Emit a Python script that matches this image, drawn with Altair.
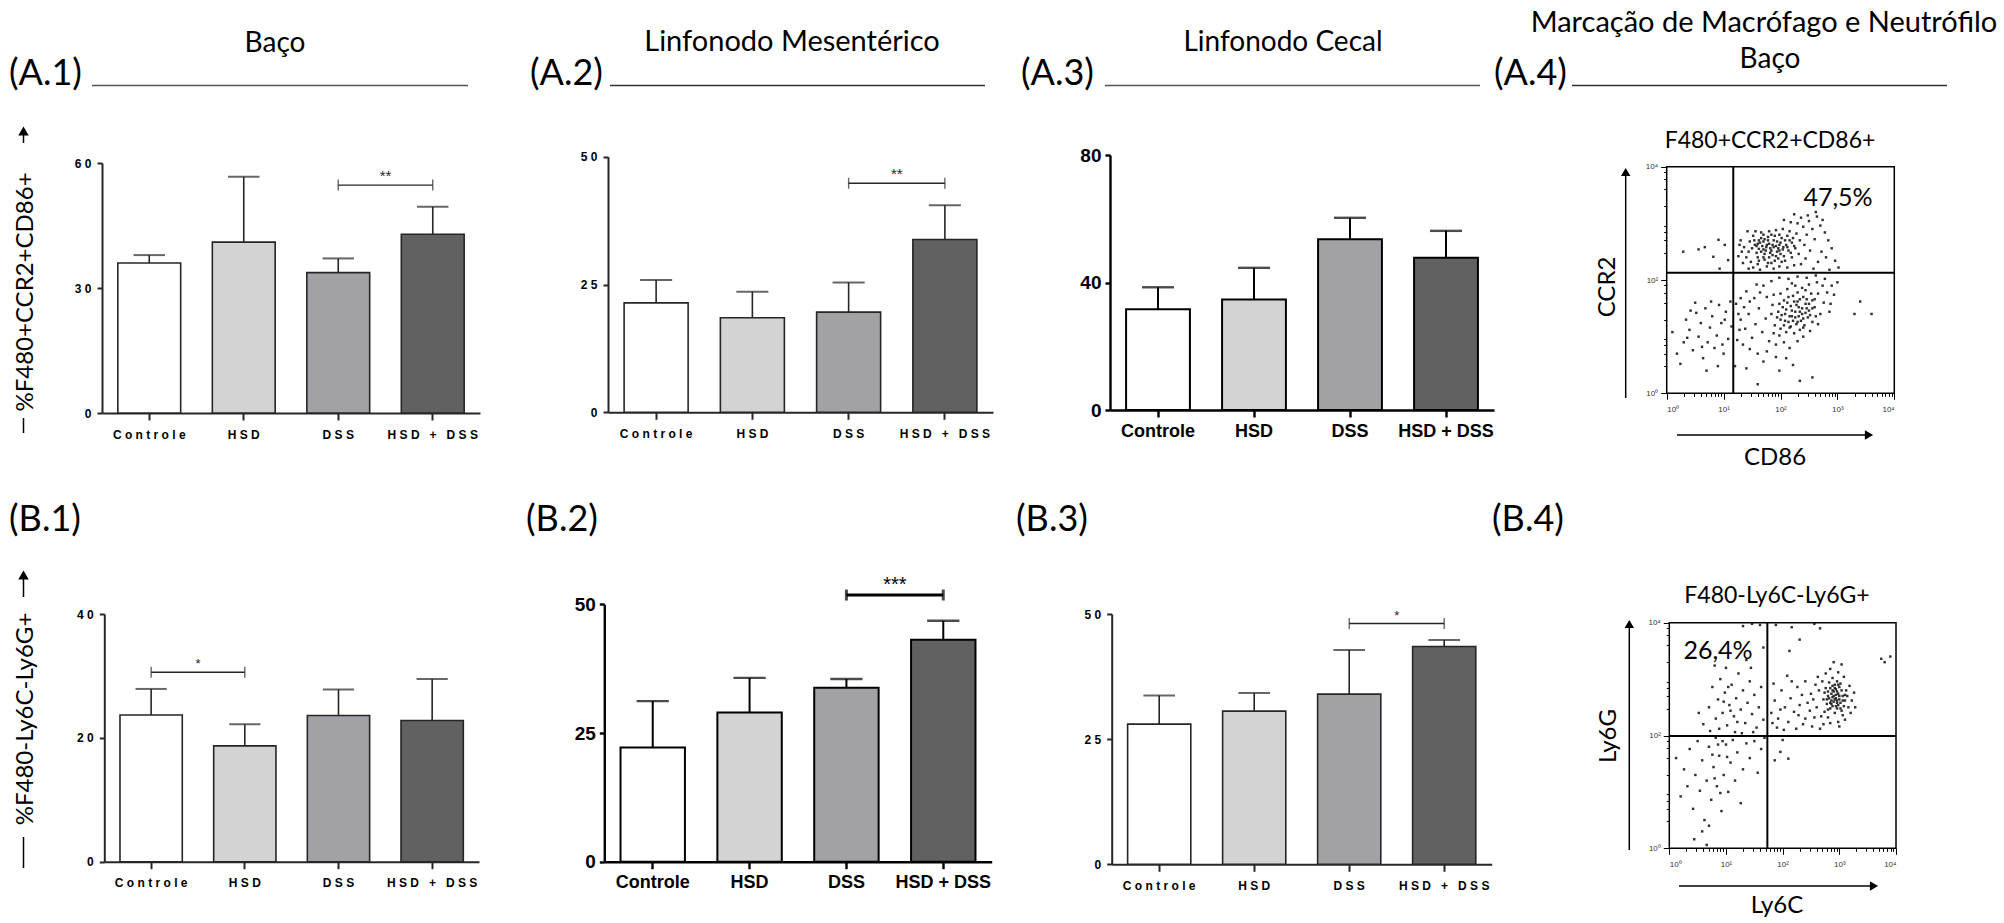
import math
import altair as alt
import pandas as pd

W, H = 2004, 923
TXT = "Lato"
AX = "Liberation Sans"

grupos = ["Controle", "HSD", "DSS", "HSD + DSS"]
cores = ["#ffffff", "#d3d3d3", "#a2a2a6", "#616161"]

# média e EPM (%) por grupo
a1_media = [36.0, 41.0, 33.7, 42.9]
a1_epm = [1.9, 15.7, 3.4, 6.6]
a2_media = [21.4, 18.5, 19.6, 33.8]
a2_epm = [4.5, 5.1, 5.8, 6.7]
a3_media = [31.6, 34.7, 53.6, 47.8]
a3_epm = [6.9, 9.9, 6.7, 8.4]
b1_media = [23.7, 18.7, 23.6, 22.8]
b1_epm = [4.2, 3.5, 4.2, 6.7]
b2_media = [22.2, 29.0, 33.8, 43.1]
b2_epm = [9.0, 6.7, 1.7, 3.7]
b3_media = [28.0, 30.6, 34.0, 43.5]
b3_epm = [5.7, 3.6, 8.8, 1.3]

# comparações significativas: grupo inicial, grupo final, altura, rótulo
a1_sig = ["DSS", "HSD + DSS", 54.7, "**"]
a2_sig = ["DSS", "HSD + DSS", 44.8, "**"]
b1_sig = ["Controle", "HSD", 30.6, "*"]
b2_sig = ["DSS", "HSD + DSS", 51.8, "***"]
b3_sig = ["DSS", "HSD + DSS", 48.1, "*"]

# citometria (log10 da intensidade): CD86 x CCR2, baço
a4_q = (1.17, 2.13)
a4_alto = [
    (1.55, 2.62), (1.62, 2.55), (1.70, 2.68), (1.75, 2.58), (1.80, 2.64), (1.84, 2.52), (1.88, 2.70),
    (1.92, 2.60), (1.96, 2.56), (2.00, 2.66), (2.05, 2.58), (2.10, 2.62), (1.66, 2.74), (1.78, 2.76),
    (1.90, 2.78), (2.02, 2.74), (1.58, 2.48), (1.72, 2.46), (1.86, 2.44), (2.00, 2.46), (2.14, 2.52),
    (2.20, 2.66), (1.64, 2.66), (1.82, 2.56), (1.94, 2.68), (1.74, 2.52), (1.50, 2.56), (1.46, 2.68),
    (1.68, 2.60), (2.08, 2.70), (1.40, 2.40), (1.48, 2.32), (1.60, 2.28), (1.72, 2.36), (1.84, 2.30),
    (1.96, 2.38), (2.08, 2.34), (2.20, 2.40), (2.32, 2.46), (2.26, 2.56), (2.34, 2.70), (2.28, 2.82),
    (2.16, 2.86), (2.04, 2.90), (1.92, 2.88), (1.80, 2.86), (1.66, 2.84), (1.52, 2.78), (1.42, 2.86),
    (1.36, 2.58), (1.32, 2.50), (1.30, 2.70), (2.42, 2.62), (2.46, 2.80), (2.40, 2.94), (2.30, 3.00),
    (2.18, 3.02), (2.06, 3.06), (2.50, 3.04), (2.56, 2.90), (2.60, 2.72), (2.52, 2.52), (2.44, 2.38),
    (2.36, 2.28), (2.24, 2.26), (2.12, 2.22), (1.98, 2.24), (1.88, 2.20), (1.76, 2.24), (1.64, 2.18),
    (1.52, 2.22), (1.44, 2.20), (1.34, 2.30), (1.26, 2.42), (1.28, 2.62), (2.64, 3.12), (2.70, 2.96),
    (2.78, 2.84), (2.84, 2.70), (2.90, 2.56), (2.72, 2.50), (2.80, 2.40), (2.66, 2.32), (2.58, 2.20),
    (2.96, 2.34), (3.02, 2.22), (2.86, 2.18), (2.62, 3.20), (2.48, 3.14), (2.36, 3.10), (2.24, 3.16),
    (2.74, 3.06), (1.58, 2.60), (1.70, 2.54), (1.86, 2.62), (1.98, 2.52), (1.78, 2.70), (1.62, 2.70),
    (1.60, 2.64), (1.66, 2.50), (1.72, 2.72), (1.76, 2.62), (1.82, 2.48), (1.88, 2.58), (1.94, 2.50),
    (1.98, 2.62), (2.04, 2.54), (2.12, 2.58), (2.16, 2.70), (1.54, 2.70), (1.60, 2.40), (1.70, 2.40),
    (1.80, 2.40), (1.92, 2.42), (2.06, 2.42), (2.18, 2.48), (2.24, 2.60), (1.44, 2.50), (1.56, 2.86),
    (1.70, 2.80), (1.84, 2.80), (1.98, 2.80), (2.12, 2.78), (2.22, 2.74), (1.62, 2.34), (1.78, 2.30),
    (1.90, 2.34), (2.02, 2.32),
    (0.29, 2.50), (0.56, 2.54), (0.67, 2.58), (0.82, 2.41), (0.91, 2.71), (1.02, 2.62), (1.08, 2.35),
    (0.93, 2.20),
]
a4_baixo = [
    (2.00, 1.30), (2.08, 1.40), (2.14, 1.26), (2.20, 1.46), (2.26, 1.34), (2.32, 1.52), (2.38, 1.40),
    (2.44, 1.58), (2.50, 1.46), (2.56, 1.64), (2.04, 1.52), (2.12, 1.60), (2.18, 1.18), (2.28, 1.22),
    (2.36, 1.28), (2.42, 1.20), (2.48, 1.34), (2.30, 1.62), (2.22, 1.72), (2.40, 1.70), (2.54, 1.76),
    (1.96, 1.44), (1.90, 1.20), (2.10, 1.08), (2.24, 1.06), (2.34, 1.12), (2.60, 1.52), (2.62, 1.36),
    (1.30, 1.30), (1.38, 1.14), (1.44, 1.40), (1.50, 0.98), (1.56, 1.22), (1.62, 1.50), (1.68, 1.08),
    (1.74, 1.32), (1.80, 0.92), (1.86, 1.56), (1.92, 0.86), (1.98, 1.02), (2.06, 0.90), (2.16, 0.80),
    (2.30, 0.92), (2.40, 1.00), (2.52, 1.10), (2.66, 1.22), (2.70, 1.40), (2.76, 1.60), (2.82, 1.78),
    (2.74, 1.90), (2.64, 1.96), (2.50, 1.92), (2.38, 1.86), (2.26, 1.90), (2.12, 1.84), (2.00, 1.76),
    (1.88, 1.74), (1.76, 1.70), (1.64, 1.78), (1.54, 1.68), (1.46, 1.62), (1.36, 1.52), (1.28, 1.12),
    (1.24, 0.94), (1.34, 0.86), (1.46, 0.78), (1.60, 0.70), (1.76, 0.74), (1.92, 0.64), (1.70, 1.90),
    (1.84, 1.98), (1.98, 2.04), (2.14, 2.02), (2.30, 2.06), (2.46, 2.04), (2.62, 2.08), (2.78, 2.02),
    (2.90, 1.90), (2.94, 1.74), (2.88, 1.58), (3.00, 1.96), (2.56, 1.26), (1.58, 1.92), (1.40, 1.80),
    (1.30, 1.68), (1.22, 1.58), (1.26, 1.40), (2.86, 1.44), (1.70, 0.56), (1.98, 0.40), (2.22, 0.50),
    (1.40, 0.44), (2.10, 0.62), (3.30, 1.40), (3.60, 1.40), (3.40, 1.62), (2.56, 0.28), (2.34, 0.22),
    (1.60, 0.16), (1.20, 0.48), (2.16, 1.36), (2.34, 1.44), (2.46, 1.50), (2.06, 1.20), (2.28, 1.56),
    (2.40, 1.32), (2.18, 1.54),
    (2.02, 1.38), (2.10, 1.48), (2.16, 1.16), (2.22, 1.28), (2.26, 1.44), (2.32, 1.36), (2.38, 1.50),
    (2.44, 1.42), (2.50, 1.58), (2.56, 1.50), (2.06, 1.64), (2.14, 1.70), (2.24, 1.62), (2.34, 1.66),
    (2.46, 1.66), (1.94, 1.34), (1.98, 1.58), (2.08, 1.28), (2.20, 1.36), (2.30, 1.26), (2.40, 1.16),
    (2.52, 1.38), (2.60, 1.66), (2.66, 1.76), (1.84, 1.40), (1.88, 1.06), (2.00, 1.14), (2.30, 1.78),
    (2.44, 1.82), (2.20, 1.94),
]
a4_esq = [
    (0.10, 1.08), (0.18, 0.70), (0.30, 0.90), (0.34, 1.30), (0.40, 1.12), (0.46, 0.76), (0.52, 1.42),
    (0.56, 1.00), (0.60, 1.24), (0.64, 0.62), (0.68, 1.50), (0.72, 0.90), (0.76, 1.16), (0.80, 1.36),
    (0.84, 0.80), (0.88, 1.02), (0.92, 1.56), (0.96, 1.24), (1.00, 0.70), (1.04, 1.44), (1.08, 0.96),
    (1.12, 1.62), (1.14, 1.18), (0.70, 0.40), (0.90, 0.48), (0.50, 1.60), (0.24, 0.52), (0.42, 1.46),
    (0.62, 0.82), (1.02, 1.30), (0.78, 1.62), (0.98, 0.86), (0.36, 0.98),
]

# citometria (log10 da intensidade): Ly6C x Ly6G, baço
b4_q = (1.73, 1.99)
b4_neutro = [
    (2.80, 2.70), (2.86, 2.62), (2.90, 2.78), (2.94, 2.66), (2.98, 2.74), (3.02, 2.58), (3.06, 2.70),
    (2.84, 2.84), (2.92, 2.90), (3.00, 2.86), (2.88, 2.52), (2.96, 2.48), (3.04, 2.44), (2.78, 2.56),
    (2.74, 2.76), (3.10, 2.62), (3.12, 2.80), (2.82, 2.94), (2.96, 2.96), (2.90, 2.60), (2.98, 2.54),
    (2.86, 2.74), (3.08, 2.52), (2.72, 2.64), (2.94, 2.82), (3.02, 2.92), (2.80, 2.46), (2.92, 2.40),
    (3.14, 2.70), (2.88, 3.02), (2.60, 2.50), (2.64, 2.80), (2.68, 2.34), (2.70, 2.96), (2.76, 3.10),
    (2.84, 3.18), (2.98, 3.12), (3.08, 3.04), (3.18, 2.88), (3.22, 2.62), (3.20, 2.40), (3.10, 2.28),
    (2.98, 2.24), (2.84, 2.22), (2.72, 2.20), (2.56, 2.32), (2.54, 2.64), (2.58, 2.90), (2.62, 3.04),
    (2.90, 3.30), (3.04, 3.26), (3.26, 2.76), (2.48, 2.44), (2.50, 2.74), (2.44, 2.58), (2.40, 2.30),
    (2.52, 2.16), (2.66, 2.12), (3.28, 2.50), (3.00, 2.16), (2.80, 2.32), (2.74, 2.42), (3.16, 2.50),
    (3.06, 2.36), (2.94, 2.72), (2.88, 2.68), (3.00, 2.64), (2.84, 2.58), (2.96, 2.78),
    (2.82, 2.66), (2.88, 2.80), (2.92, 2.64), (2.96, 2.58), (3.00, 2.70), (3.04, 2.80), (2.86, 2.56),
    (2.90, 2.70), (2.94, 2.52), (2.98, 2.90), (3.06, 2.62), (2.78, 2.64), (2.84, 2.48), (2.92, 2.84),
    (3.02, 2.48), (2.76, 2.84), (3.10, 2.72), (2.88, 2.88), (2.80, 2.78), (2.96, 2.62),
]
b4_cauda = [
    (1.80, 2.40), (1.86, 2.62), (1.92, 2.30), (1.98, 2.80), (2.04, 2.50), (2.10, 2.24), (2.14, 2.66),
    (2.20, 2.42), (2.26, 2.86), (2.30, 2.54), (2.36, 2.20), (2.34, 2.72), (2.16, 2.96), (1.90, 2.14),
    (2.02, 2.10), (2.24, 2.12), (1.84, 2.92), (2.08, 3.06), (2.40, 2.96), (1.96, 2.46), (2.28, 2.36),
    (1.82, 2.22), (1.88, 3.96), (2.16, 3.92), (2.56, 3.98), (2.66, 3.90), (2.30, 3.70), (3.90, 3.40),
    (3.80, 3.30), (3.74, 3.36), (2.12, 3.50),
]
b4_sup_esq = [
    (0.60, 2.20), (0.70, 2.50), (0.76, 2.86), (0.82, 2.30), (0.86, 2.64), (0.90, 3.00), (0.94, 2.40),
    (0.98, 2.76), (1.02, 2.18), (1.06, 2.54), (1.10, 2.90), (1.14, 2.34), (1.18, 2.66), (1.22, 3.10),
    (1.26, 2.46), (1.30, 2.80), (1.34, 2.22), (1.38, 2.58), (1.42, 2.96), (1.46, 2.38), (1.50, 2.72),
    (1.54, 2.14), (1.58, 2.50), (1.62, 2.86), (1.66, 2.28), (1.44, 3.20), (1.00, 3.20), (0.88, 2.12),
    (1.16, 2.06), (0.72, 2.08), (1.28, 2.04), (1.48, 2.06), (0.52, 2.40), (0.80, 3.24), (1.36, 3.34),
    (1.66, 3.56), (1.60, 3.96), (1.30, 3.94), (1.46, 3.98), (1.08, 2.44), (0.96, 2.60), (1.20, 2.24),
    (1.04, 2.86),
]
b4_inf = [
    (0.12, 1.60), (0.20, 0.92), (0.26, 1.40), (0.32, 1.10), (0.36, 1.76), (0.42, 0.70), (0.46, 1.30),
    (0.50, 1.90), (0.54, 1.02), (0.58, 1.56), (0.62, 0.50), (0.66, 1.20), (0.70, 1.80), (0.74, 0.86),
    (0.78, 1.44), (0.82, 1.96), (0.84, 1.10), (0.88, 1.64), (0.92, 0.66), (0.96, 1.30), (1.00, 1.84),
    (1.04, 1.00), (1.08, 1.52), (1.12, 1.92), (1.16, 1.20), (1.20, 1.70), (1.26, 0.80), (1.30, 1.40),
    (1.36, 1.86), (1.42, 1.60), (1.50, 1.90), (1.56, 1.34), (1.62, 1.76), (1.68, 1.96), (0.70, 0.40),
    (0.58, 0.30), (0.44, 0.16), (0.66, 0.06), (0.86, 1.84), (0.76, 1.66), (0.94, 1.90), (0.80, 1.24),
    (1.02, 1.62), (0.90, 0.98), (1.96, 1.71), (2.10, 1.59), (1.86, 1.56), (2.00, 1.92),
]

one = pd.DataFrame({"k": [0]})
PI = 0.335

FINO = dict(spaced=True, xs=12, ys=12, lw=1.6, ink="#262626", xpad=9, ypad=6)
GROSSO = dict(spaced=False, xs=18, ys=19, lw=2.0, ink="black", xpad=5, ypad=4)


def texto(t, x, y, size, align="left", font=TXT, weight="normal", angle=0, baseline="alphabetic"):
    return alt.Chart(one).mark_text(
        text=t, fontSize=size, font=font, fontWeight=weight, align=align,
        baseline=baseline, angle=angle, color="black",
    ).encode(x=alt.value(x), y=alt.value(y))


def linha_h(x1, x2, y, color="black", w=1.5):
    return alt.Chart(one).mark_rule(color=color, strokeWidth=w).encode(
        x=alt.value(x1), x2=alt.value(x2), y=alt.value(y))


def linha_v(x, y1, y2, color="black", w=1.5):
    return alt.Chart(one).mark_rule(color=color, strokeWidth=w).encode(
        x=alt.value(x), y=alt.value(y1), y2=alt.value(y2))


def seta(x, y, shape, size=60):
    return alt.Chart(one).mark_point(shape=shape, filled=True, size=size, color="black", opacity=1).encode(
        x=alt.value(x), y=alt.value(y))


def painel(media, epm, x0, x1, y0, y1, ymax, ticks, est, sig=None, sig_w=1.4, sig_fs=15):
    df = pd.DataFrame({"grupo": grupos, "media": media, "epm": epm})
    df["topo"] = df["media"] + df["epm"]
    step = (x1 - x0) / len(grupos)
    xs = alt.Scale(domain=grupos, range=[x0, x1], paddingInner=PI, paddingOuter=PI / 2)
    ys = alt.Scale(domain=[0, ymax], range=[y0, y1], nice=False)
    ink, lw = est["ink"], est["lw"]
    # rótulos espaçados letra a letra (espaço não separável para não colapsar)
    lab = "join(split(datum.label, ''), '\u00a0')" if est["spaced"] else "datum.label"
    xax = alt.Axis(
        orient="bottom", offset=y0 - H, title=None, labelAngle=0, labelExpr=lab, labelOverlap=False,
        labelFont=AX, labelFontSize=est["xs"], labelFontWeight="bold", labelColor="black",
        labelPadding=est["xpad"], tickSize=7, tickWidth=lw + 0.4, tickColor=ink,
        domainColor=ink, domainWidth=lw + 0.4, grid=False,
    )
    yax = alt.Axis(
        orient="left", offset=-x0, title=None, values=ticks, labelExpr=lab,
        labelFont=AX, labelFontSize=est["ys"], labelFontWeight="bold", labelColor="black",
        labelPadding=est["ypad"], tickSize=5, tickWidth=lw + 0.4, tickColor=ink,
        domainColor=ink, domainWidth=lw + 0.4, grid=False,
    )
    base = alt.Chart(df)
    barras = base.mark_bar(stroke=ink, strokeWidth=lw).encode(
        x=alt.X("grupo:N", scale=xs, axis=xax, title=None),
        y=alt.Y("media:Q", scale=ys, axis=yax, title=None),
        fill=alt.Fill("grupo:N", scale=alt.Scale(domain=grupos, range=cores), legend=None),
    )
    erro = base.mark_rule(color=ink, strokeWidth=lw).encode(
        x=alt.X("grupo:N", scale=xs, title=None),
        y=alt.Y("media:Q", scale=ys, title=None), y2="topo:Q",
    )
    capa = base.mark_tick(orient="horizontal", size=step / 3, thickness=lw + 0.4, color=ink).encode(
        x=alt.X("grupo:N", scale=xs, title=None),
        y=alt.Y("topo:Q", scale=ys, title=None),
    )
    camadas = [barras, erro, capa]
    if sig is not None:
        sdf = pd.DataFrame({"de": [sig[0]], "ate": [sig[1]], "altura": [sig[2]], "rotulo": [sig[3]]})
        sb = alt.Chart(sdf)
        camadas += [
            sb.mark_rule(color=ink, strokeWidth=sig_w).encode(
                x=alt.X("de:N", scale=xs, title=None), x2="ate:N",
                y=alt.Y("altura:Q", scale=ys, title=None)),
            sb.mark_tick(orient="vertical", size=11, thickness=sig_w, color=ink).encode(
                x=alt.X("de:N", scale=xs, title=None), y=alt.Y("altura:Q", scale=ys, title=None)),
            sb.mark_tick(orient="vertical", size=11, thickness=sig_w, color=ink).encode(
                x=alt.X("ate:N", scale=xs, title=None), y=alt.Y("altura:Q", scale=ys, title=None)),
            sb.mark_text(font=AX, fontSize=sig_fs, color=ink, dx=step / 2, dy=-4, baseline="alphabetic").encode(
                x=alt.X("de:N", scale=xs, title=None), y=alt.Y("altura:Q", scale=ys, title=None),
                text="rotulo:N"),
        ]
    return alt.layer(*camadas)


DEC_TICKS = sorted({round(n + math.log10(k), 6) for n in range(4) for k in range(1, 10)} | {4.0})
INTEIRO = "abs(datum.value - round(datum.value)) < 0.000001"
DEC_LABEL = INTEIRO + " ? ['10⁰','10¹','10²','10³','10⁴'][round(datum.value)] : ''"


def citometria(pops, q, x0, x1, y0, y1):
    pts = [p for pop in pops for p in pop]
    df = pd.DataFrame(pts, columns=["x", "y"])
    fx = alt.Scale(domain=[0, 4], range=[x0, x1], nice=False, zero=False)
    fy = alt.Scale(domain=[0, 4], range=[y0, y1], nice=False, zero=False)
    comum = dict(
        values=DEC_TICKS, labelExpr=DEC_LABEL, title=None, domain=False, grid=False,
        tickColor="black", tickWidth=1,
        tickSize={"condition": {"test": INTEIRO, "value": 6}, "value": 3},
        labelFont=AX, labelFontSize=8, labelColor="#333", labelOverlap=False,
    )
    xax = alt.Axis(orient="bottom", offset=y0 - H, labelPadding=6, **comum)
    yax = alt.Axis(orient="left", offset=-x0, labelPadding=3, **comum)
    pontos = alt.Chart(df).mark_square(size=6, color="#1a1a1a", opacity=0.9).encode(
        x=alt.X("x:Q", scale=fx, axis=xax, title=None),
        y=alt.Y("y:Q", scale=fy, axis=yax, title=None),
    )
    moldura = alt.Chart(one).mark_rect(fill="transparent", stroke="black", strokeWidth=1.5).encode(
        x=alt.X(datum=0, scale=fx, title=None), x2=alt.datum(4),
        y=alt.Y(datum=0, scale=fy, title=None), y2=alt.datum(4),
    )
    vq = alt.Chart(one).mark_rule(color="black", strokeWidth=2).encode(
        x=alt.X(datum=q[0], scale=fx, title=None),
        y=alt.Y(datum=0, scale=fy, title=None), y2=alt.datum(4),
    )
    hq = alt.Chart(one).mark_rule(color="black", strokeWidth=2).encode(
        x=alt.X(datum=0, scale=fx, title=None), x2=alt.datum(4),
        y=alt.Y(datum=q[1], scale=fy, title=None),
    )
    return alt.layer(pontos, moldura, vq, hq)


camadas = [
    painel(a1_media, a1_epm, 102, 480, 413, 163, 60, [0, 30, 60], FINO, a1_sig),
    painel(a2_media, a2_epm, 608, 993, 412.3, 156.7, 50, [0, 25, 50], FINO, a2_sig),
    painel(a3_media, a3_epm, 1110, 1494, 410, 155, 80, [0, 40, 80], GROSSO),
    painel(b1_media, b1_epm, 104.3, 479, 861.7, 614, 40, [0, 20, 40], FINO, b1_sig, sig_fs=13),
    painel(b2_media, b2_epm, 604.3, 991.7, 861.7, 604.3, 50, [0, 25, 50], GROSSO, b2_sig, sig_w=3, sig_fs=20),
    painel(b3_media, b3_epm, 1111.7, 1491.7, 864.3, 614, 50, [0, 25, 50], FINO, b3_sig, sig_fs=13),
    citometria([a4_alto, a4_baixo, a4_esq], a4_q, 1666.7, 1894.3, 393.3, 166.7),
    citometria([b4_neutro, b4_cauda, b4_sup_esq, b4_inf], b4_q, 1669.3, 1896, 848.3, 622.7),
]

# cabeçalhos das colunas e rótulos dos painéis
camadas += [
    texto("(A.1)", 9, 85, 36), texto("Baço", 275, 52, 28, align="center"), linha_h(92, 468, 85.5, "#555", 1.3),
    texto("(A.2)", 530, 85, 36), texto("Linfonodo Mesentérico", 792, 51, 29, align="center"),
    linha_h(610, 985, 85.5, "#333", 1.3),
    texto("(A.3)", 1021, 85, 36), texto("Linfonodo Cecal", 1283, 51, 28, align="center"),
    linha_h(1105, 1480, 85.5, "#555", 1.3),
    texto("(A.4)", 1494, 85, 36), texto("Marcação de Macrófago e Neutrófilo", 1764, 32, 29, align="center"),
    texto("Baço", 1770, 68, 28, align="center"), linha_h(1572, 1947, 85.5, "#333", 1.3),
    texto("(B.1)", 9, 531, 36), texto("(B.2)", 526, 531, 36),
    texto("(B.3)", 1016, 531, 36), texto("(B.4)", 1492, 531, 36),
]

# títulos dos eixos y com seta
camadas += [
    texto("%F480+CCR2+CD86+", 33, 292, 24, align="center", angle=270),
    linha_v(23.5, 418, 433), linha_v(23.5, 134, 143), seta(23.5, 131, "triangle-up", 110),
    texto("%F480-Ly6C-Ly6G+", 33, 719, 24, align="center", angle=270),
    linha_v(23.5, 837, 868), linha_v(23.5, 578, 597), seta(23.5, 575, "triangle-up", 110),
]

# anotações da citometria
camadas += [
    texto("F480+CCR2+CD86+", 1770, 148, 23, align="center"),
    texto("47,5%", 1838, 206, 25, align="center"),
    texto("CCR2", 1615, 287, 24, align="center", angle=270),
    linha_v(1625.7, 398, 175), seta(1625.7, 172, "triangle-up", 90),
    linha_h(1677, 1866, 435), seta(1869, 435, "triangle-right", 90),
    texto("CD86", 1775, 465, 24, align="center"),
    texto("F480-Ly6C-Ly6G+", 1777, 603, 23, align="center"),
    texto("26,4%", 1718, 659, 25, align="center"),
    texto("Ly6G", 1616, 736, 24, align="center", angle=270),
    linha_v(1629.3, 850, 627), seta(1629.3, 624, "triangle-up", 90),
    linha_h(1679, 1871, 886), seta(1874, 886, "triangle-right", 90),
    texto("Ly6C", 1777, 913, 24, align="center"),
]

chart = (
    alt.layer(*camadas)
    .resolve_scale(x="independent", y="independent")
    .properties(width=W, height=H, autosize=alt.AutoSizeParams(type="none"), padding=0, background="white")
    .configure_view(strokeWidth=0)
)

chart.save("out.html", embed_options={"renderer": "svg", "actions": False})
